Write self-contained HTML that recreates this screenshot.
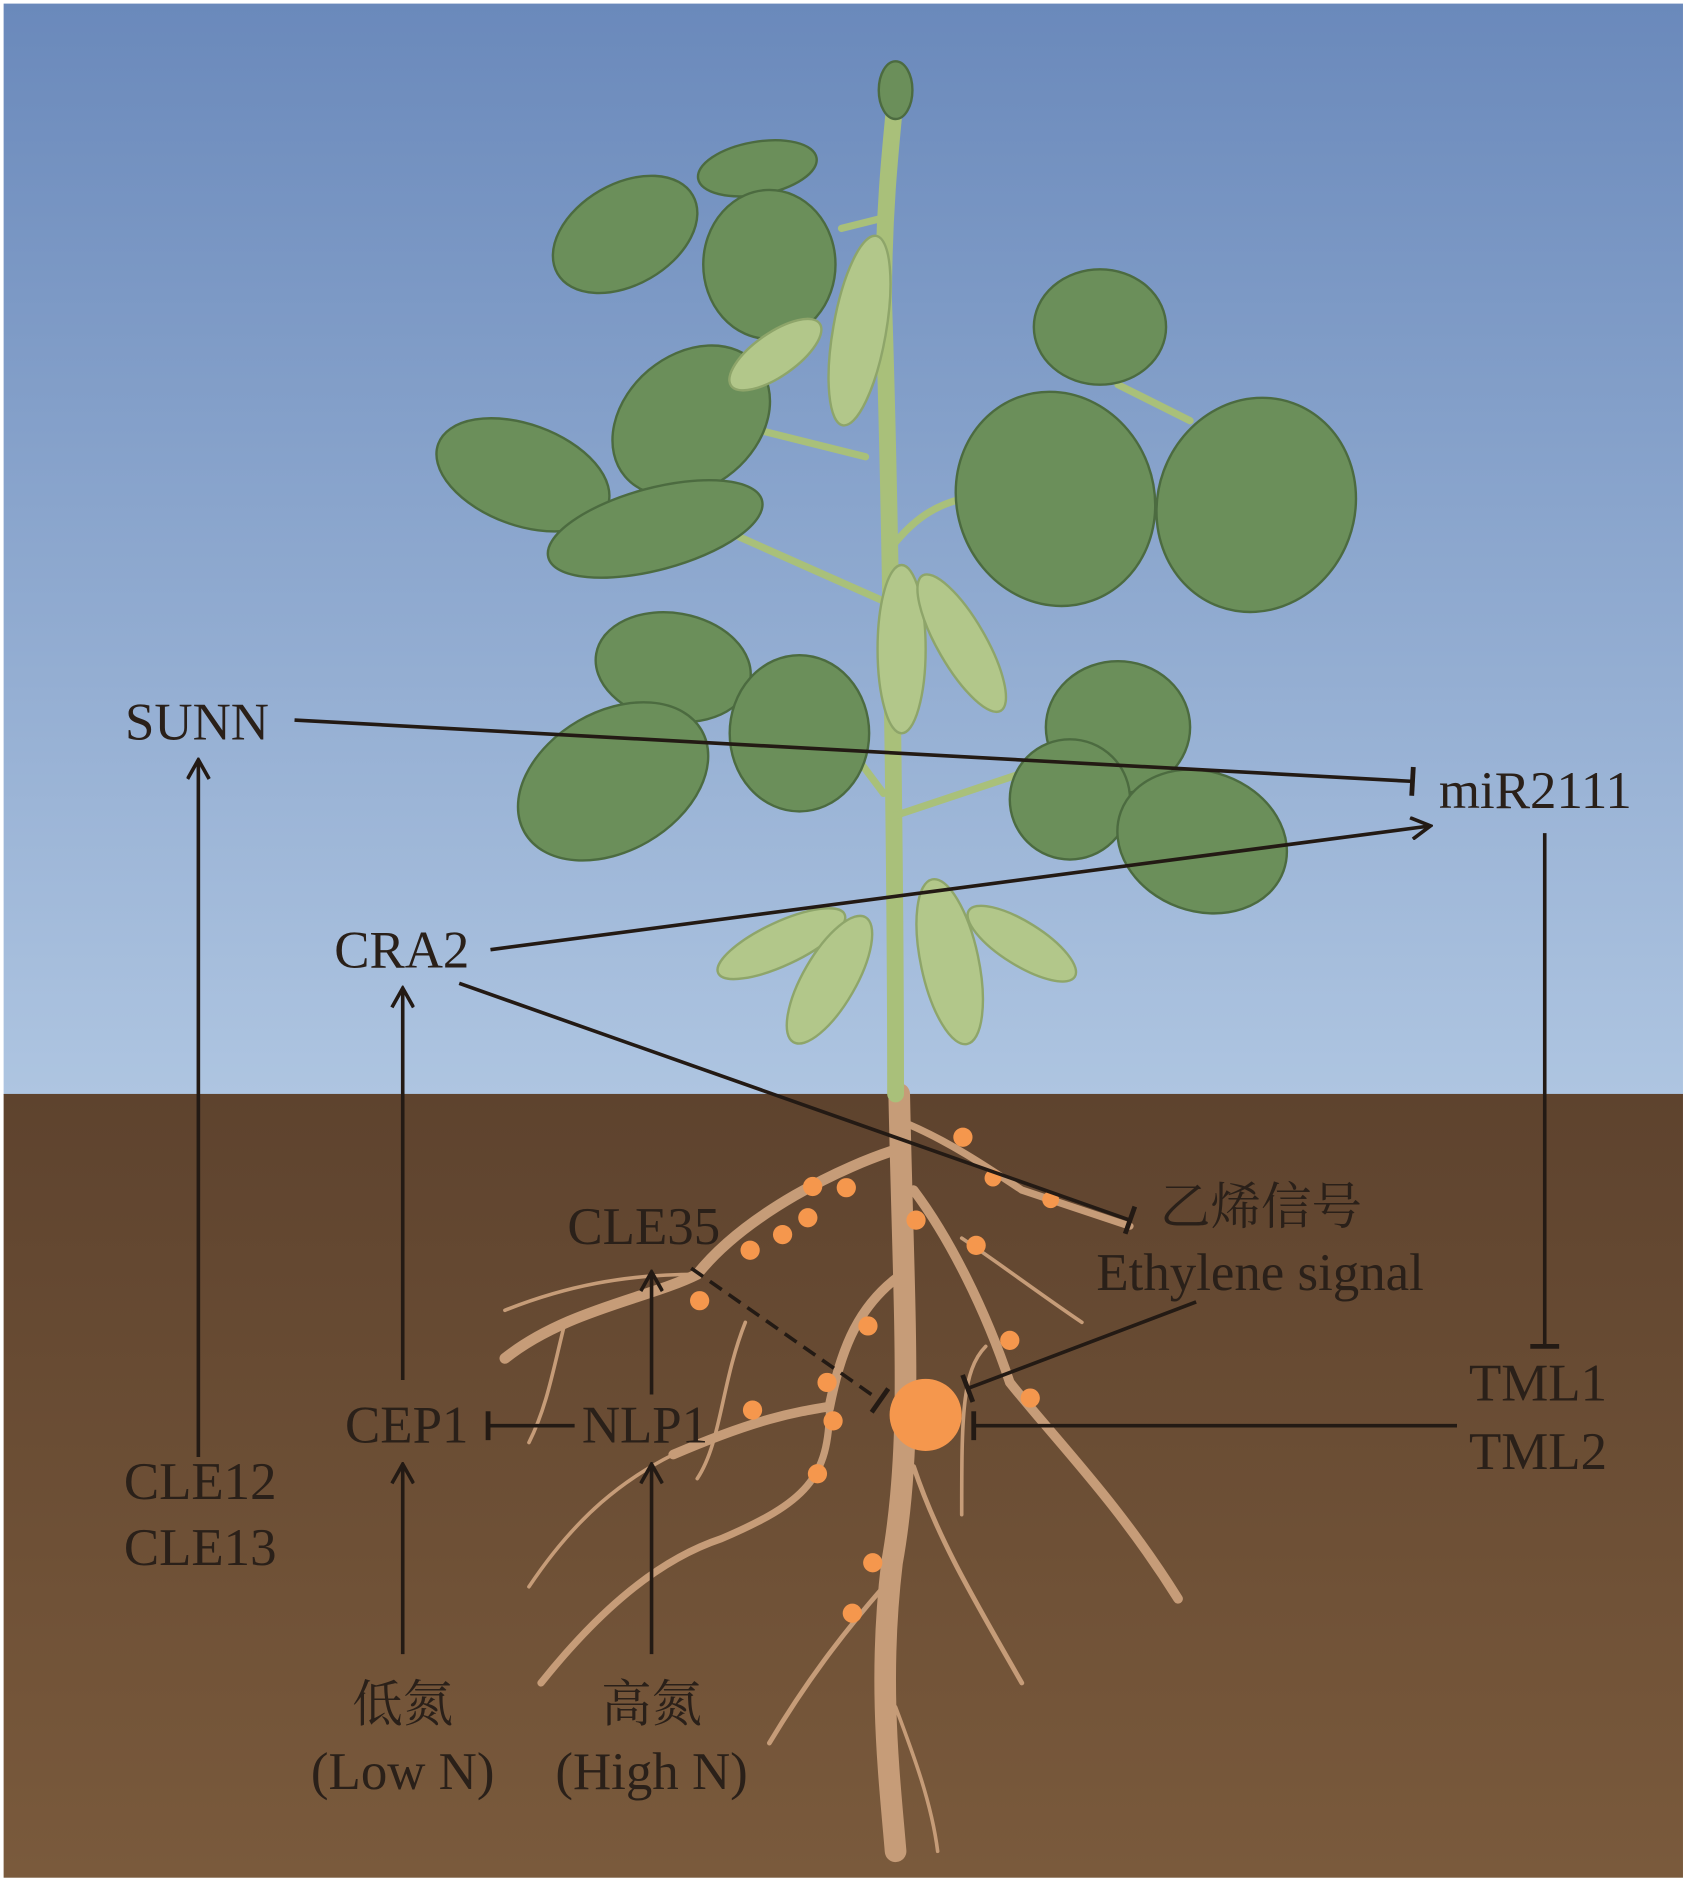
<!DOCTYPE html>
<html><head><meta charset="utf-8"><style>
html,body{margin:0;padding:0;background:#fff;}
svg{display:block;}
text{font-family:"Liberation Serif","Noto Serif CJK SC",serif;fill:#2a2019;font-size:44px;}
.cn{font-family:"Liberation Serif","Noto Serif CJK SC","Noto Sans CJK SC",serif;font-size:42px;}
</style></head><body>
<svg width="1689" height="1883" viewBox="0 0 1405 1566.4" xmlns="http://www.w3.org/2000/svg">
<defs>
<linearGradient id="sky" x1="0" y1="0" x2="0" y2="1">
<stop offset="0" stop-color="#6a89bb"/><stop offset="1" stop-color="#aec5e1"/></linearGradient>
<linearGradient id="soil" x1="0" y1="0" x2="0" y2="1">
<stop offset="0" stop-color="#5e432e"/><stop offset="1" stop-color="#7a5a3c"/></linearGradient>
<marker id="ar" viewBox="0 0 20 20" refX="18" refY="10" markerWidth="20" markerHeight="20" markerUnits="userSpaceOnUse" orient="auto">
<path d="M2,1 L18,10 L2,19" fill="none" stroke="#231a14" stroke-width="3"/></marker>
<marker id="tb" viewBox="0 0 10 26" refX="5" refY="13" markerWidth="10" markerHeight="26" markerUnits="userSpaceOnUse" orient="auto">
<line x1="5" y1="1" x2="5" y2="25" stroke="#231a14" stroke-width="4"/></marker>
</defs>
<rect x="3" y="3" width="1397" height="908" fill="url(#sky)"/>
<rect x="3" y="910" width="1397" height="652" fill="url(#soil)"/>
<g fill="none" stroke="#c69c78" stroke-linecap="round">
<path d="M748,910 C752,1100 760,1200 742,1300 C730,1400 740,1480 745,1540" stroke-width="18"/>
<path d="M750,955 C700,970 620,1010 580,1060 C540,1080 470,1090 420,1130" stroke-width="9"/>
<path d="M750,1060 C715,1085 700,1120 690,1170 C660,1175 630,1180 560,1210" stroke-width="8"/>
<path d="M690,1170 C690,1230 670,1250 600,1280 C540,1300 490,1350 450,1400" stroke-width="6"/>
<path d="M760,990 C790,1030 820,1090 840,1150 C880,1200 930,1250 980,1330" stroke-width="8"/>
<path d="M755,935 C790,950 820,970 850,990 C880,1000 910,1010 940,1020" stroke-width="6"/>
<path d="M760,1220 C780,1280 810,1330 850,1400" stroke-width="4"/>
<path d="M735,1320 C700,1360 670,1400 640,1450" stroke-width="4"/>
<path d="M745,1420 C760,1460 775,1500 780,1540" stroke-width="3"/>
<path d="M560,1210 C520,1230 480,1260 440,1320" stroke-width="3"/>
<path d="M580,1060 C520,1060 470,1070 420,1090" stroke-width="3"/>
<path d="M820,1120 C800,1140 800,1180 800,1260" stroke-width="3"/>
<path d="M800,1030 C830,1050 870,1080 900,1100" stroke-width="3"/>
<path d="M620,1100 C600,1150 600,1200 580,1230" stroke-width="3"/>
<path d="M470,1100 C460,1140 455,1170 440,1200" stroke-width="3"/>
</g>
<g fill="#f5974d">
<circle cx="770" cy="1177" r="30"/>
<circle cx="676" cy="987" r="8"/><circle cx="704" cy="988" r="8"/><circle cx="672" cy="1013" r="8"/>
<circle cx="651" cy="1027" r="8"/><circle cx="624" cy="1040" r="8"/><circle cx="582" cy="1082" r="8"/>
<circle cx="762" cy="1015" r="8"/><circle cx="812" cy="1036" r="8"/><circle cx="801" cy="946" r="8"/>
<circle cx="826" cy="980" r="7"/><circle cx="874" cy="998" r="7"/><circle cx="722" cy="1103" r="8"/>
<circle cx="840" cy="1115" r="8"/><circle cx="857" cy="1163" r="8"/><circle cx="688" cy="1150" r="8"/>
<circle cx="693" cy="1182" r="8"/><circle cx="626" cy="1173" r="8"/><circle cx="680" cy="1226" r="8"/>
<circle cx="726" cy="1300" r="8"/><circle cx="709" cy="1342" r="8"/>
</g>
<g fill="none" stroke="#a9c07a" stroke-linecap="round">
<path d="M745,910 C745,700 740,400 735,250 C735,180 740,130 745,80" stroke-width="14"/>
<path d="M740,180 L700,190 M738,460 C760,430 780,420 800,415 M735,500 L600,440 M740,680 L860,640 M735,660 L690,600 M930,320 L990,350 M720,380 L600,350" stroke-width="6"/>
</g>
<g fill="#6b8f5a" stroke="#4c6b40" stroke-width="2">
<ellipse cx="745" cy="75" rx="14" ry="24"/>
<ellipse cx="520" cy="195" rx="65" ry="42" transform="rotate(-30 520 195)"/>
<ellipse cx="630" cy="140" rx="50" ry="22" transform="rotate(-10 630 140)"/>
<ellipse cx="640" cy="220" rx="55" ry="62"/>
<ellipse cx="575" cy="350" rx="72" ry="55" transform="rotate(-40 575 350)"/>
<ellipse cx="435" cy="395" rx="75" ry="42" transform="rotate(20 435 395)"/>
<ellipse cx="545" cy="440" rx="92" ry="34" transform="rotate(-15 545 440)"/>
<ellipse cx="915" cy="272" rx="55" ry="48"/>
<ellipse cx="878" cy="415" rx="82" ry="90" transform="rotate(-20 878 415)"/>
<ellipse cx="1045" cy="420" rx="82" ry="90" transform="rotate(20 1045 420)"/>
<ellipse cx="560" cy="555" rx="65" ry="45" transform="rotate(10 560 555)"/>
<ellipse cx="665" cy="610" rx="58" ry="65"/>
<ellipse cx="510" cy="650" rx="85" ry="58" transform="rotate(-30 510 650)"/>
<ellipse cx="930" cy="605" rx="60" ry="55"/>
<ellipse cx="890" cy="665" rx="50" ry="50"/>
<ellipse cx="1000" cy="700" rx="72" ry="58" transform="rotate(20 1000 700)"/>
</g>
<g fill="#b2c78a" stroke="#8ea56a" stroke-width="2">
<ellipse cx="715" cy="275" rx="22" ry="80" transform="rotate(10 715 275)"/>
<ellipse cx="645" cy="295" rx="45" ry="18" transform="rotate(-35 645 295)"/>
<ellipse cx="750" cy="540" rx="20" ry="70"/>
<ellipse cx="800" cy="535" rx="20" ry="65" transform="rotate(-30 800 535)"/>
<ellipse cx="650" cy="785" rx="58" ry="18" transform="rotate(-25 650 785)"/>
<ellipse cx="690" cy="815" rx="22" ry="60" transform="rotate(30 690 815)"/>
<ellipse cx="790" cy="800" rx="24" ry="70" transform="rotate(-12 790 800)"/>
<ellipse cx="850" cy="785" rx="52" ry="18" transform="rotate(32 850 785)"/>
</g>
<g stroke="#231a14" stroke-width="3" fill="none">
<line x1="245" y1="599" x2="1175" y2="650" marker-end="url(#tb)"/>
<line x1="408" y1="790" x2="1190" y2="687" marker-end="url(#ar)"/>
<line x1="382" y1="818" x2="940" y2="1015" marker-end="url(#tb)"/>
<line x1="165" y1="1212" x2="165" y2="632" marker-end="url(#ar)"/>
<line x1="335" y1="1148" x2="335" y2="822" marker-end="url(#ar)"/>
<line x1="542" y1="1160" x2="542" y2="1058" marker-end="url(#ar)"/>
<line x1="478" y1="1186" x2="406" y2="1186" marker-end="url(#tb)"/>
<line x1="335" y1="1376" x2="335" y2="1218" marker-end="url(#ar)"/>
<line x1="542" y1="1376" x2="542" y2="1218" marker-end="url(#ar)"/>
<line x1="1285" y1="693" x2="1285" y2="1120" marker-end="url(#tb)"/>
<line x1="1212" y1="1186" x2="810" y2="1186" marker-end="url(#tb)"/>
<line x1="995" y1="1083" x2="805" y2="1155" marker-end="url(#tb)"/>
<line x1="575" y1="1055" x2="732" y2="1165" stroke-dasharray="12,7" marker-end="url(#tb)"/>
</g>
<text x="104" y="615">SUNN</text>
<text x="1197" y="672">miR2111</text>
<text x="278" y="805">CRA2</text>
<text x="472" y="1035">CLE35</text>
<text class="cn" x="965" y="1018">乙烯信号</text>
<text x="912" y="1073">Ethylene signal</text>
<text x="287" y="1200">CEP1</text>
<text x="484" y="1200">NLP1</text>
<text x="1222" y="1165">TML1</text>
<text x="1222" y="1222">TML2</text>
<text x="103" y="1247">CLE12</text>
<text x="103" y="1302">CLE13</text>
<text class="cn" x="335" y="1432" text-anchor="middle">低氮</text>
<text x="335" y="1488" text-anchor="middle">(Low N)</text>
<text class="cn" x="542" y="1432" text-anchor="middle">高氮</text>
<text x="542" y="1488" text-anchor="middle">(High N)</text>
</svg>
</body></html>
